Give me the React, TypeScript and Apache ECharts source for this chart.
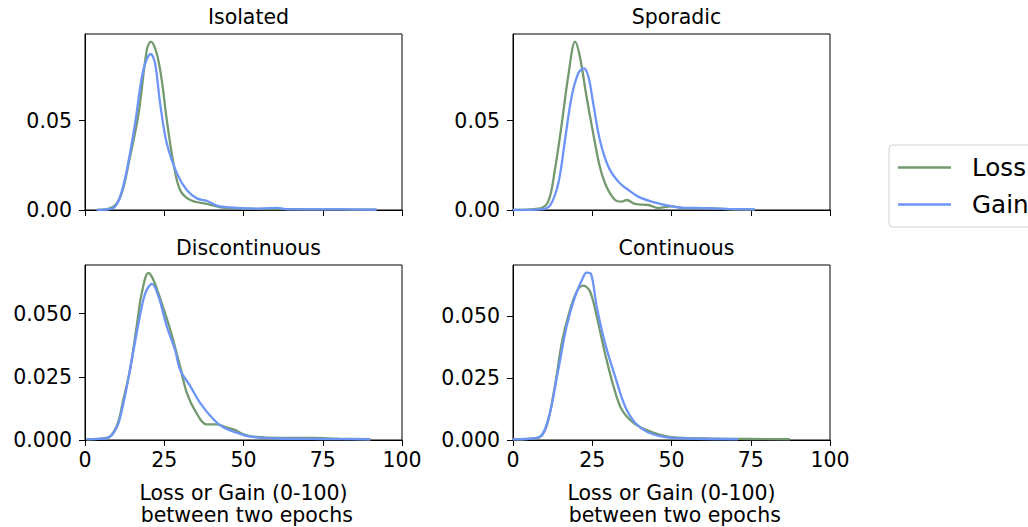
import React, { useEffect, useRef } from "react";
import * as echarts from "echarts";

// ---------- data ----------
const panelTitles = ["Isolated", "Sporadic", "Discontinuous", "Continuous"];
const seriesNames = ["Loss", "Gain"];
const xTicks = [0, 25, 50, 75, 100];
const yTicksTop = [0, 0.05];
const yTicksBottom = [0, 0.025, 0.05];
const yMax = [0.0985, 0.0985, 0.0692, 0.0706];

// Isolated
const isoLossX = [3.7, 8.9, 11.5, 14.2, 16.9, 19.5, 20.75, 22.6, 24.2, 25.8, 27.9, 30.0, 33.2, 38.4, 42.7, 51, 60, 70, 80, 92];
const isoLossY = [0, 0.0018, 0.009, 0.0298, 0.054, 0.0896, 0.0942, 0.0877, 0.0728, 0.0504, 0.0261, 0.0112, 0.0056, 0.0034, 0.0015, 0.0007, 0.0005, 0.0004, 0.0003, 0.0002];
const isoGainX = [3.7, 8.9, 11.0, 13.2, 15.8, 18.4, 20.75, 22.1, 23.7, 25.8, 29, 32.1, 35.3, 38.4, 41.6, 47.9, 55, 60.6, 64, 75, 92];
const isoGainY = [0, 0.0012, 0.007, 0.0224, 0.0485, 0.0784, 0.0873, 0.0821, 0.0597, 0.0373, 0.0205, 0.0112, 0.0065, 0.0052, 0.0025, 0.0012, 0.0008, 0.0012, 0.0004, 0.0004, 0.0002];

// Sporadic
const spoLossX = [0, 8, 11.1, 13.2, 15.4, 17.4, 19.6, 21.1, 23.2, 25.3, 27.4, 29.5, 32.2, 34.3, 35.9, 38.5, 42.7, 45.9, 50, 54.3, 61.6, 68, 76.3];
const spoLossY = [0, 0.0007, 0.0047, 0.0224, 0.0485, 0.0746, 0.0942, 0.0858, 0.0634, 0.0429, 0.0242, 0.013, 0.0056, 0.0047, 0.0056, 0.0034, 0.0028, 0.0011, 0.002, 0.0009, 0.0011, 0.0004, 0.0002];
const spoGainX = [0, 9, 11.7, 14.3, 16.4, 18.5, 20.6, 22.4, 23.8, 25.3, 27.4, 30.1, 33.2, 36.4, 39.5, 43.7, 48, 52.1, 60.6, 68, 76.3];
const spoGainY = [0, 0.0004, 0.0026, 0.015, 0.0392, 0.0634, 0.0765, 0.0793, 0.0746, 0.0597, 0.0392, 0.0242, 0.0159, 0.0112, 0.0075, 0.0047, 0.0028, 0.0015, 0.001, 0.0006, 0.0004];

// Discontinuous
const disLossX = [0.5, 6.8, 10, 12.1, 14.2, 16.3, 17.9, 20, 21.6, 24.2, 26.9, 30, 32.1, 34.8, 38.4, 41.6, 44.8, 47.4, 50, 53.2, 61.6, 72, 80, 90];
const disLossY = [0.0003, 0.0008, 0.0055, 0.016, 0.0278, 0.0449, 0.058, 0.0661, 0.0633, 0.0541, 0.0436, 0.0291, 0.0187, 0.0114, 0.0062, 0.0062, 0.0049, 0.0039, 0.0022, 0.0013, 0.0008, 0.0008, 0.0005, 0.0003];
const disGainX = [0.5, 6.8, 10, 12.1, 14.2, 16.9, 19, 21.1, 23.2, 25.8, 28.4, 30, 33.2, 36.3, 40.5, 43.7, 47.9, 52.1, 61.6, 75, 90];
const disGainY = [0.0003, 0.0006, 0.0049, 0.0144, 0.0278, 0.0462, 0.058, 0.0617, 0.0567, 0.0449, 0.0357, 0.0278, 0.0213, 0.0147, 0.0082, 0.0049, 0.0029, 0.0013, 0.0006, 0.0004, 0.0003];

// Continuous
const conLossX = [0, 8, 10.6, 13.2, 15.4, 17.4, 20.1, 22.2, 24.3, 26.4, 29, 31.7, 34.3, 37.9, 41.6, 45.9, 50, 60.6, 75, 87.4];
const conLossY = [0.0003, 0.001, 0.0056, 0.0217, 0.0392, 0.0499, 0.0599, 0.0623, 0.0599, 0.0499, 0.0351, 0.0217, 0.0123, 0.007, 0.0043, 0.0023, 0.0012, 0.0006, 0.0004, 0.0003];
const conGainX = [0, 8, 11.1, 14.3, 16.9, 19.6, 22.2, 23.2, 24.6, 26.4, 29, 32.2, 35.3, 38.5, 42.7, 48, 55, 71];
const conGainY = [0.0003, 0.001, 0.0083, 0.0284, 0.0458, 0.0579, 0.0659, 0.0675, 0.067, 0.0539, 0.0392, 0.0257, 0.0137, 0.007, 0.003, 0.0012, 0.0006, 0.0003];

const lossSets = [
  [isoLossX, isoLossY],
  [spoLossX, spoLossY],
  [disLossX, disLossY],
  [conLossX, conLossY],
];
const gainSets = [
  [isoGainX, isoGainY],
  [spoGainX, spoGainY],
  [disGainX, disGainY],
  [conGainX, conGainY],
];

const xAxisName = "Loss or Gain (0-100)\n between two epochs";

// ---------- styling ----------
const LOSS_COLOR = "#73996f";
const GAIN_COLOR = "#6d94f7";
const FONT = "DejaVu Sans";
const FS = 20.5;

const gridPos = [
  { left: 85, top: 34 },
  { left: 513, top: 34 },
  { left: 85, top: 265 },
  { left: 513, top: 265 },
];
const GW = 317;
const GH = 176;

const zip = (xs: number[], ys: number[]) => xs.map((x, i) => [x, ys[i]]);

export default function App() {
  const ref = useRef<HTMLDivElement>(null);
  useEffect(() => {
    if (!ref.current) return;
    const chart = echarts.init(ref.current, null, { renderer: "svg" });

    const grids = gridPos.map((g) => ({
      left: g.left,
      top: g.top,
      width: GW,
      height: GH,
      show: true,
      borderColor: "#000",
      borderWidth: 1,
      backgroundColor: "transparent",
      containLabel: false,
    }));

    const xAxes = gridPos.map((_, i) => ({
      type: "value",
      gridIndex: i,
      min: xTicks[0],
      max: xTicks[xTicks.length - 1],
      interval: xTicks[1] - xTicks[0],
      axisLine: { show: true, lineStyle: { color: "#000", width: 1 } },
      axisTick: { show: true, length: 6, lineStyle: { color: "#000", width: 1 } },
      axisLabel: {
        show: i >= 2,
        margin: 9,
        color: "#000",
        fontFamily: FONT,
        fontSize: FS,
      },
      splitLine: { show: false },
      name: i >= 2 ? xAxisName : "",
      nameLocation: "middle",
      nameGap: 42,
      nameTextStyle: {
        color: "#000",
        fontFamily: FONT,
        fontSize: FS,
        lineHeight: 22,
        align: "center",
      },
    }));

    const yAxes = gridPos.map((_, i) => {
      const ticks = i < 2 ? yTicksTop : yTicksBottom;
      const digits = i < 2 ? 2 : 3;
      return {
        type: "value",
        gridIndex: i,
        min: 0,
        max: yMax[i],
        axisLine: { show: true, lineStyle: { color: "#000", width: 1 } },
        axisTick: {
          show: true,
          length: 6,
          customValues: ticks,
          lineStyle: { color: "#000", width: 1 },
        },
        axisLabel: {
          show: true,
          customValues: ticks,
          margin: 13,
          color: "#000",
          fontFamily: FONT,
          fontSize: FS,
          formatter: (v: number) => v.toFixed(digits),
        },
        splitLine: { show: false },
      };
    });

    const series: any[] = [];
    for (let i = 0; i < 4; i++) {
      series.push({
        name: seriesNames[0],
        type: "line",
        xAxisIndex: i,
        yAxisIndex: i,
        data: zip(lossSets[i][0], lossSets[i][1]),
        showSymbol: false,
        symbol: "none",
        smooth: 0.35,
        lineStyle: { color: LOSS_COLOR, width: 2.3 },
        itemStyle: { color: LOSS_COLOR },
        z: 2,
      });
      series.push({
        name: seriesNames[1],
        type: "line",
        xAxisIndex: i,
        yAxisIndex: i,
        data: zip(gainSets[i][0], gainSets[i][1]),
        showSymbol: false,
        symbol: "none",
        smooth: 0.35,
        lineStyle: { color: GAIN_COLOR, width: 2.3 },
        itemStyle: { color: GAIN_COLOR },
        z: 3,
      });
    }

    const titles = gridPos.map((g, i) => ({
      text: panelTitles[i],
      left: g.left + GW / 2,
      top: g.top - 33,
      textAlign: "center",
      textStyle: {
        color: "#000",
        fontFamily: FONT,
        fontSize: FS,
        fontWeight: "normal",
      },
    }));

    chart.setOption({
      animation: false,
      backgroundColor: "#fff",
      title: titles,
      grid: grids,
      xAxis: xAxes,
      yAxis: yAxes,
      legend: {
        data: seriesNames,
        orient: "vertical",
        left: 889,
        top: 145,
        icon: "rect",
        itemWidth: 53,
        itemHeight: 2.3,
        itemGap: 12,
        padding: [10, 40, 10, 9],
        borderColor: "#d0d0d0",
        borderWidth: 1,
        borderRadius: 4,
        textStyle: {
          color: "#000",
          fontFamily: FONT,
          fontSize: 24.6,
          padding: [0, 0, 0, 16],
        },
      },
      series,
    });

    return () => chart.dispose();
  }, []);

  return (
    <div
      ref={ref}
      style={{ position: "absolute", left: 0, top: 0, width: 1028, height: 527 }}
    />
  );
}
